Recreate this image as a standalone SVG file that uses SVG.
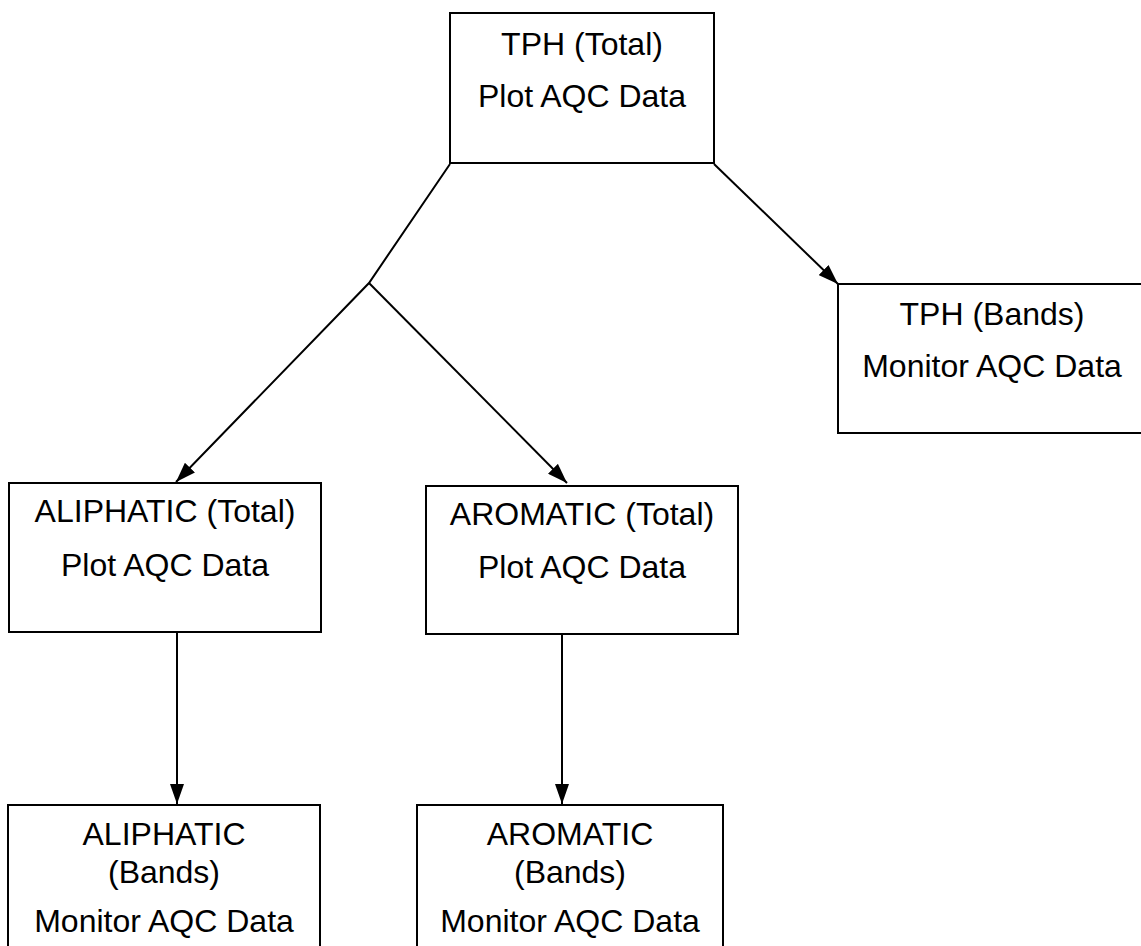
<svg xmlns="http://www.w3.org/2000/svg" width="1141" height="946" viewBox="0 0 1141 946">
  <style>
    .box { fill: #ffffff; stroke: #000000; stroke-width: 2; }
    .label { font-family: "Liberation Sans", Arial, sans-serif; font-size: 32px; fill: #000000; text-anchor: middle; }
    .link { fill: none; stroke: #000000; stroke-width: 2; }
  </style>
  <defs>
    <marker id="arrow" viewBox="0 0 20 14" refX="20" refY="7" markerWidth="20" markerHeight="14" markerUnits="userSpaceOnUse" orient="auto">
      <path d="M0,0 L20,7 L0,14 Z" fill="#000000"/>
    </marker>
  </defs>
  <rect width="1141" height="946" fill="#ffffff"/>

  <g id="connectors">
    <polyline class="link" points="450,164 369,283 176,482" marker-end="url(#arrow)"/>
    <line class="link" x1="369" y1="283" x2="567" y2="483" marker-end="url(#arrow)"/>
    <line class="link" x1="714" y1="164" x2="838" y2="284" marker-end="url(#arrow)"/>
    <line class="link" x1="177" y1="631" x2="177" y2="804" marker-end="url(#arrow)"/>
    <line class="link" x1="562" y1="631" x2="562" y2="804" marker-end="url(#arrow)"/>
  </g>

  <g id="tph-total">
    <rect class="box" x="450" y="13" width="264" height="150"/>
    <text class="label" x="582" y="55">TPH (Total)</text>
    <text class="label" x="582" y="107">Plot AQC Data</text>
  </g>

  <g id="tph-bands">
    <rect class="box" x="838" y="284" width="310" height="149"/>
    <text class="label" x="992" y="325">TPH (Bands)</text>
    <text class="label" x="992" y="377">Monitor AQC Data</text>
  </g>

  <g id="aliphatic-total">
    <rect class="box" x="9" y="483" width="312" height="149"/>
    <text class="label" x="165" y="522">ALIPHATIC (Total)</text>
    <text class="label" x="165" y="576">Plot AQC Data</text>
  </g>

  <g id="aromatic-total">
    <rect class="box" x="426" y="486" width="312" height="148"/>
    <text class="label" x="582" y="525">AROMATIC (Total)</text>
    <text class="label" x="582" y="578">Plot AQC Data</text>
  </g>

  <g id="aliphatic-bands">
    <rect class="box" x="8" y="805" width="312" height="160"/>
    <text class="label" x="164" y="845">ALIPHATIC</text>
    <text class="label" x="164" y="883">(Bands)</text>
    <text class="label" x="164" y="932">Monitor AQC Data</text>
  </g>

  <g id="aromatic-bands">
    <rect class="box" x="417" y="805" width="306" height="160"/>
    <text class="label" x="570" y="845">AROMATIC</text>
    <text class="label" x="570" y="883">(Bands)</text>
    <text class="label" x="570" y="932">Monitor AQC Data</text>
  </g>
</svg>
